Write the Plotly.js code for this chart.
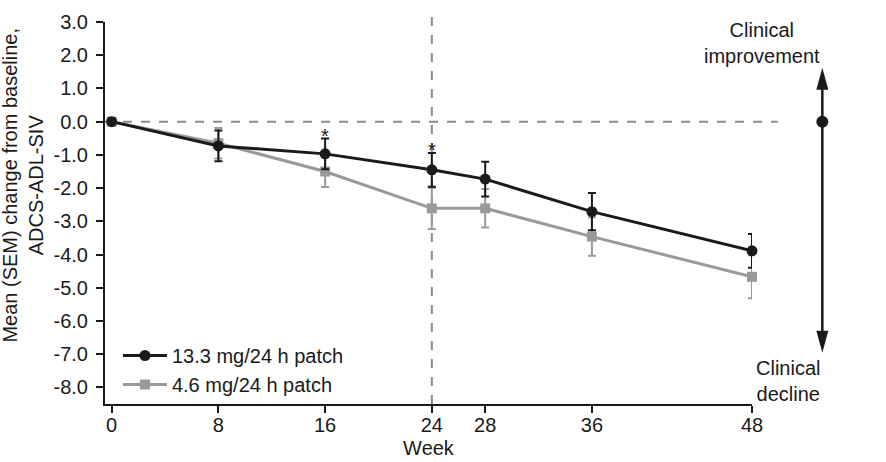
<!DOCTYPE html>
<html>
<head>
<meta charset="utf-8">
<script src="https://cdn.plot.ly/plotly-3.0.1.min.js"></script>
<style>html,body{margin:0;padding:0;background:#fff;}#chart{width:886px;height:462px;}</style>
</head>
<body>
<div id="chart"></div>
<script>
// ---- data ----
const weeks = [0, 8, 16, 24, 28, 36, 48];
const highName = "13.3 mg/24 h patch";
const highMean = [0, -0.73, -0.97, -1.45, -1.73, -2.71, -3.89];
const highSem  = [0, 0.46, 0.46, 0.51, 0.52, 0.56, 0.51];
const lowName = "4.6 mg/24 h patch";
const lowMean = [0, -0.65, -1.50, -2.61, -2.61, -3.46, -4.67];
const lowSem  = [0, 0.46, 0.47, 0.62, 0.58, 0.58, 0.65];
const starWeeks = [16, 24];
const yTickVals = [3, 2, 1, 0, -1, -2, -3, -4, -5, -6, -7, -8];
const yTickText = ["3.0", "2.0", "1.0", "0.0", "-1.0", "-2.0", "-3.0", "-4.0", "-5.0", "-6.0", "-7.0", "-8.0"];
const xTickVals = [0, 8, 16, 24, 28, 36, 48];
const xTickText = ["0", "8", "16", "24", "28", "36", "48"];
const xTitle = "Week";
const yTitle = "Mean (SEM) change from baseline,<br>ADCS-ADL-SIV";
const topLabel = "Clinical<br>improvement";
const bottomLabel = "Clinical<br>decline";

const FONT = "Liberation Sans, Arial, sans-serif";
const FS = 20;
const BLACK = "#1a1a1a";
const GREY = "#999999";
const DASH = "#8a8a8a";

const traces = [
  {
    x: weeks, y: lowMean, name: lowName, type: "scatter", mode: "lines+markers",
    line: {color: GREY, width: 3},
    marker: {color: GREY, symbol: "square", size: 10},
    error_y: {type: "data", array: lowSem, visible: true, color: GREY, thickness: 2, width: 4},
    cliponaxis: false, legendrank: 2
  },
  {
    x: weeks, y: highMean, name: highName, type: "scatter", mode: "lines+markers",
    line: {color: BLACK, width: 3},
    marker: {color: BLACK, symbol: "circle", size: 11},
    error_y: {type: "data", array: highSem, visible: true, color: BLACK, thickness: 2, width: 4},
    cliponaxis: false, legendrank: 1
  }
];

const annotations = [];
starWeeks.forEach(w => {
  const i = weeks.indexOf(w);
  annotations.push({
    x: w, y: highMean[i] + highSem[i], xref: "x", yref: "y",
    text: "*", showarrow: false, yanchor: "middle", yshift: 3,
    font: {family: FONT, size: FS, color: BLACK}
  });
});
const arrowX = 1.1087;
const arrowTop = 1.62, arrowBottom = -6.96;
annotations.push({
  x: arrowX, y: 2.37, xref: "paper", yref: "y", text: topLabel, showarrow: false,
  font: {family: FONT, size: FS, color: BLACK}, align: "center"
});
annotations.push({
  x: arrowX, y: -7.8, xref: "paper", yref: "y", text: bottomLabel, showarrow: false,
  font: {family: FONT, size: FS, color: BLACK}, align: "center"
});
annotations.push({
  x: -0.126, y: 0.573, xref: "paper", yref: "paper", xanchor: "center", yanchor: "middle",
  text: yTitle, showarrow: false,
  textangle: -90, font: {family: FONT, size: FS, color: BLACK}, align: "center"
});

const shapes = [
  {type: "line", xref: "paper", yref: "y", x0: 0, x1: 1.04, y0: 0, y1: 0,
   line: {color: DASH, width: 2, dash: "dash"}, layer: "below"},
  {type: "line", xref: "x", yref: "paper", x0: 24, x1: 24, y0: 0, y1: 1.03,
   line: {color: DASH, width: 2, dash: "dash"}, layer: "below"},
  {type: "line", xref: "paper", yref: "y", x0: arrowX, x1: arrowX, y0: arrowBottom + 0.4, y1: arrowTop - 0.4,
   line: {color: BLACK, width: 2.5}},
  {type: "path", xref: "paper", yref: "y", xsizemode: "pixel", ysizemode: "pixel",
   xanchor: arrowX, yanchor: arrowTop, path: "M0,0 L-6,-22 L6,-22 Z",
   fillcolor: BLACK, line: {color: BLACK, width: 0}},
  {type: "path", xref: "paper", yref: "y", xsizemode: "pixel", ysizemode: "pixel",
   xanchor: arrowX, yanchor: arrowBottom, path: "M0,0 L-6,22 L6,22 Z",
   fillcolor: BLACK, line: {color: BLACK, width: 0}},
  {type: "circle", xref: "paper", yref: "y", xsizemode: "pixel", ysizemode: "pixel",
   xanchor: arrowX, yanchor: 0, x0: -6, x1: 6, y0: -6, y1: 6,
   fillcolor: BLACK, line: {color: BLACK, width: 0}}
];

const layout = {
  width: 886, height: 462,
  margin: {l: 105, r: 134, t: 22, b: 58},
  paper_bgcolor: "#ffffff", plot_bgcolor: "#ffffff",
  font: {family: FONT, size: FS, color: BLACK},
  showlegend: true,
  legend: {x: 0.02, y: 0.178, xanchor: "left", yanchor: "top", bgcolor: "rgba(0,0,0,0)",
           font: {family: FONT, size: FS, color: BLACK}, tracegroupgap: 0, itemwidth: 44},
  xaxis: {
    range: [-0.5, 48], tickvals: xTickVals, ticktext: xTickText,
    showgrid: false, zeroline: false, showline: true, linecolor: BLACK, linewidth: 2,
    ticks: "outside", ticklen: 7, tickwidth: 2, tickcolor: BLACK,
    ticklabelstandoff: -5,
    tickfont: {family: FONT, size: FS, color: BLACK},
    title: {text: xTitle, font: {family: FONT, size: FS, color: BLACK}, standoff: 6}
  },
  yaxis: {
    range: [-8.5, 3.0], tickvals: yTickVals, ticktext: yTickText,
    showgrid: false, zeroline: false, showline: true, linecolor: BLACK, linewidth: 2,
    ticks: "outside", ticklen: 7, tickwidth: 2, tickcolor: BLACK,
    ticklabelstandoff: 4,
    tickfont: {family: FONT, size: FS, color: BLACK}
  },
  annotations: annotations,
  shapes: shapes
};

Plotly.newPlot("chart", traces, layout, {displayModeBar: false, staticPlot: true});
</script>
</body>
</html>
